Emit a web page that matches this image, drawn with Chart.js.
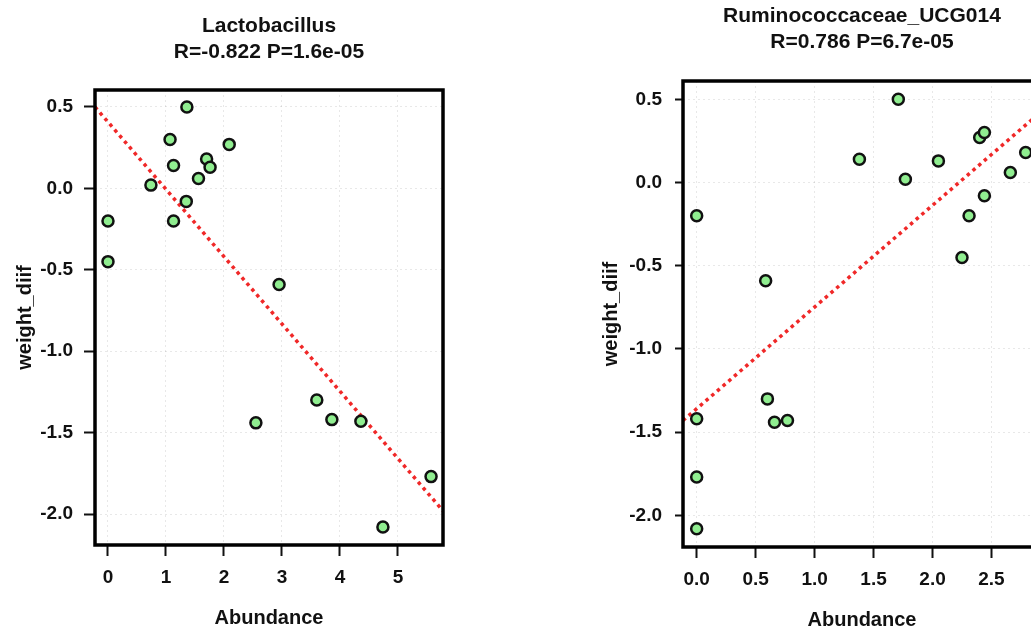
<!DOCTYPE html>
<html>
<head>
<meta charset="utf-8">
<script src="https://cdn.jsdelivr.net/npm/chart.js@4/dist/chart.umd.min.js"></script>
<style>
  html, body { margin: 0; padding: 0; background: #fff; overflow: hidden; width: 1031px; height: 633px; }
  canvas { position: absolute; top: 0; }
  #lactoChart { left: 0; }
  #rumiChart { left: 580px; }
</style>
</head>
<body>
<canvas id="lactoChart" width="470" height="633"></canvas>
<canvas id="rumiChart" width="490" height="633"></canvas>
<script>
// Lactobacillus panel
const lactoAbund = [0, 0, 0.74, 1.07, 1.13, 1.13, 1.36, 1.35, 1.56, 1.70, 1.76, 2.09, 2.95, 2.55, 3.60, 3.86, 4.36, 4.74, 5.57];
const lactoWeight = [-0.20, -0.45, 0.02, 0.30, 0.14, -0.20, 0.50, -0.08, 0.06, 0.18, 0.13, 0.27, -0.59, -1.44, -1.30, -1.42, -1.43, -2.08, -1.77];
const lactoFitX = [-0.224, 5.776];
const lactoFitY = [0.50, -1.98];
const lactoXTicks = [0, 1, 2, 3, 4, 5];

// Ruminococcaceae_UCG014 panel
const rumiAbund = [0, 0.585, 1.38, 1.71, 1.77, 2.05, 2.25, 2.31, 2.40, 2.44, 2.44, 2.66, 2.79, 0, 0, 0, 0.60, 0.66, 0.77];
const rumiWeight = [-0.20, -0.59, 0.14, 0.50, 0.02, 0.13, -0.45, -0.20, 0.27, 0.30, -0.08, 0.06, 0.18, -1.42, -1.77, -2.08, -1.30, -1.44, -1.43];
const rumiFitX = [-0.116, 2.92];
const rumiFitY = [-1.43, 0.425];
const rumiXTicks = [0, 0.5, 1.0, 1.5, 2.0, 2.5];

const weightTicks = [-2.0, -1.5, -1.0, -0.5, 0.0, 0.5];

const fontFamily = '"Liberation Sans", Arial, Helvetica, sans-serif';

// black box around the plot region
const frame = {
    id: 'frame',
    afterDraw(chart) {
        const a = chart.chartArea;
        const ctx = chart.ctx;
        ctx.save();
        ctx.strokeStyle = '#000';
        ctx.lineWidth = 3.5;
        ctx.strokeRect(a.left, a.top, a.right - a.left, a.bottom - a.top);
        ctx.restore();
    }
};

const pairs = (xs, ys) => xs.map((x, i) => ({ x: x, y: ys[i] }));
const fixedTicks = (vals) => (scale) => { scale.ticks = vals.map((v) => ({ value: v })); };

const makePanel = (id, cfg) => {
    new Chart(document.getElementById(id), {
        type: 'scatter',
        data: {
            datasets: [
                {
                    type: 'line',
                    data: pairs(cfg.fitX, cfg.fitY),
                    borderColor: '#f02828',
                    borderWidth: 3.5,
                    borderDash: [3.5, 4],
                    pointRadius: 0,
                    fill: false,
                    order: 2
                },
                {
                    data: pairs(cfg.xs, cfg.ys),
                    backgroundColor: '#90ee90',
                    borderColor: '#111',
                    borderWidth: 2.5,
                    pointRadius: 5.5,
                    order: 1
                }
            ]
        },
        options: {
            responsive: false,
            animation: false,
            layout: { padding: { left: 0, top: 0, right: cfg.padRight, bottom: 0 } },
            plugins: {
                legend: { display: false },
                tooltip: { enabled: false },
                title: {
                    display: true,
                    fullSize: false,
                    text: cfg.title,
                    color: '#111',
                    font: { family: fontFamily, size: 21, weight: 'bold', lineHeight: 26 / 21 },
                    padding: { top: cfg.titleTop, bottom: cfg.titleBottom }
                }
            },
            scales: {
                x: {
                    type: 'linear',
                    min: cfg.xMin,
                    max: cfg.xMax,
                    afterBuildTicks: fixedTicks(cfg.xTicks),
                    afterFit: (s) => { s.height = cfg.xHeight; },
                    border: { display: false, dash: [2, 3] },
                    grid: {
                        color: 'rgba(0,0,0,0.09)',
                        tickColor: '#111',
                        tickWidth: 2,
                        tickLength: 11,
                        tickBorderDash: []
                    },
                    ticks: {
                        padding: 10,
                        color: '#111',
                        font: { family: fontFamily, size: 19, weight: 'bold' },
                        callback: cfg.xFormat
                    },
                    title: {
                        display: true,
                        text: 'Abundance',
                        color: '#111',
                        font: { family: fontFamily, size: 20, weight: 'bold' },
                        padding: { top: 0, bottom: cfg.xTitleBottom }
                    }
                },
                y: {
                    type: 'linear',
                    min: cfg.yMin,
                    max: cfg.yMax,
                    afterBuildTicks: fixedTicks(weightTicks),
                    afterFit: (s) => { s.width = cfg.yWidth; },
                    border: { display: false, dash: [2, 3] },
                    grid: {
                        color: 'rgba(0,0,0,0.09)',
                        tickColor: '#111',
                        tickWidth: 2,
                        tickLength: cfg.yTick,
                        tickBorderDash: []
                    },
                    ticks: {
                        padding: cfg.yTickPad,
                        color: '#111',
                        font: { family: fontFamily, size: 19, weight: 'bold' },
                        callback: (v) => v.toFixed(1)
                    },
                    title: {
                        display: true,
                        text: 'weight_diif',
                        color: '#111',
                        font: { family: fontFamily, size: 20, weight: 'bold' },
                        padding: { top: cfg.yTitleLeft, bottom: 0 }
                    }
                }
            }
        },
        plugins: [frame]
    });
};

makePanel('lactoChart', {
    title: ['Lactobacillus', 'R=-0.822 P=1.6e-05'],
    xs: lactoAbund, ys: lactoWeight, fitX: lactoFitX, fitY: lactoFitY,
    xMin: -0.224, xMax: 5.776, xTicks: lactoXTicks, xFormat: (v) => v.toFixed(0),
    yMin: -2.19, yMax: 0.604,
    padRight: 27, titleTop: 13, titleBottom: 25,
    xHeight: 88, xTitleBottom: 3,
    yWidth: 95, yTick: 11, yTickPad: 11, yTitleLeft: 13
});

makePanel('rumiChart', {
    title: ['Ruminococcaceae_UCG014', 'R=0.786 P=6.7e-05'],
    xs: rumiAbund, ys: rumiWeight, fitX: rumiFitX, fitY: rumiFitY,
    xMin: -0.116, xMax: 2.92, xTicks: rumiXTicks, xFormat: (v) => v.toFixed(1),
    yMin: -2.19, yMax: 0.61,
    padRight: 29, titleTop: 3, titleBottom: 26,
    xHeight: 86, xTitleBottom: 1,
    yWidth: 103, yTick: 8, yTickPad: 13, yTitleLeft: 19
});
</script>
</body>
</html>
